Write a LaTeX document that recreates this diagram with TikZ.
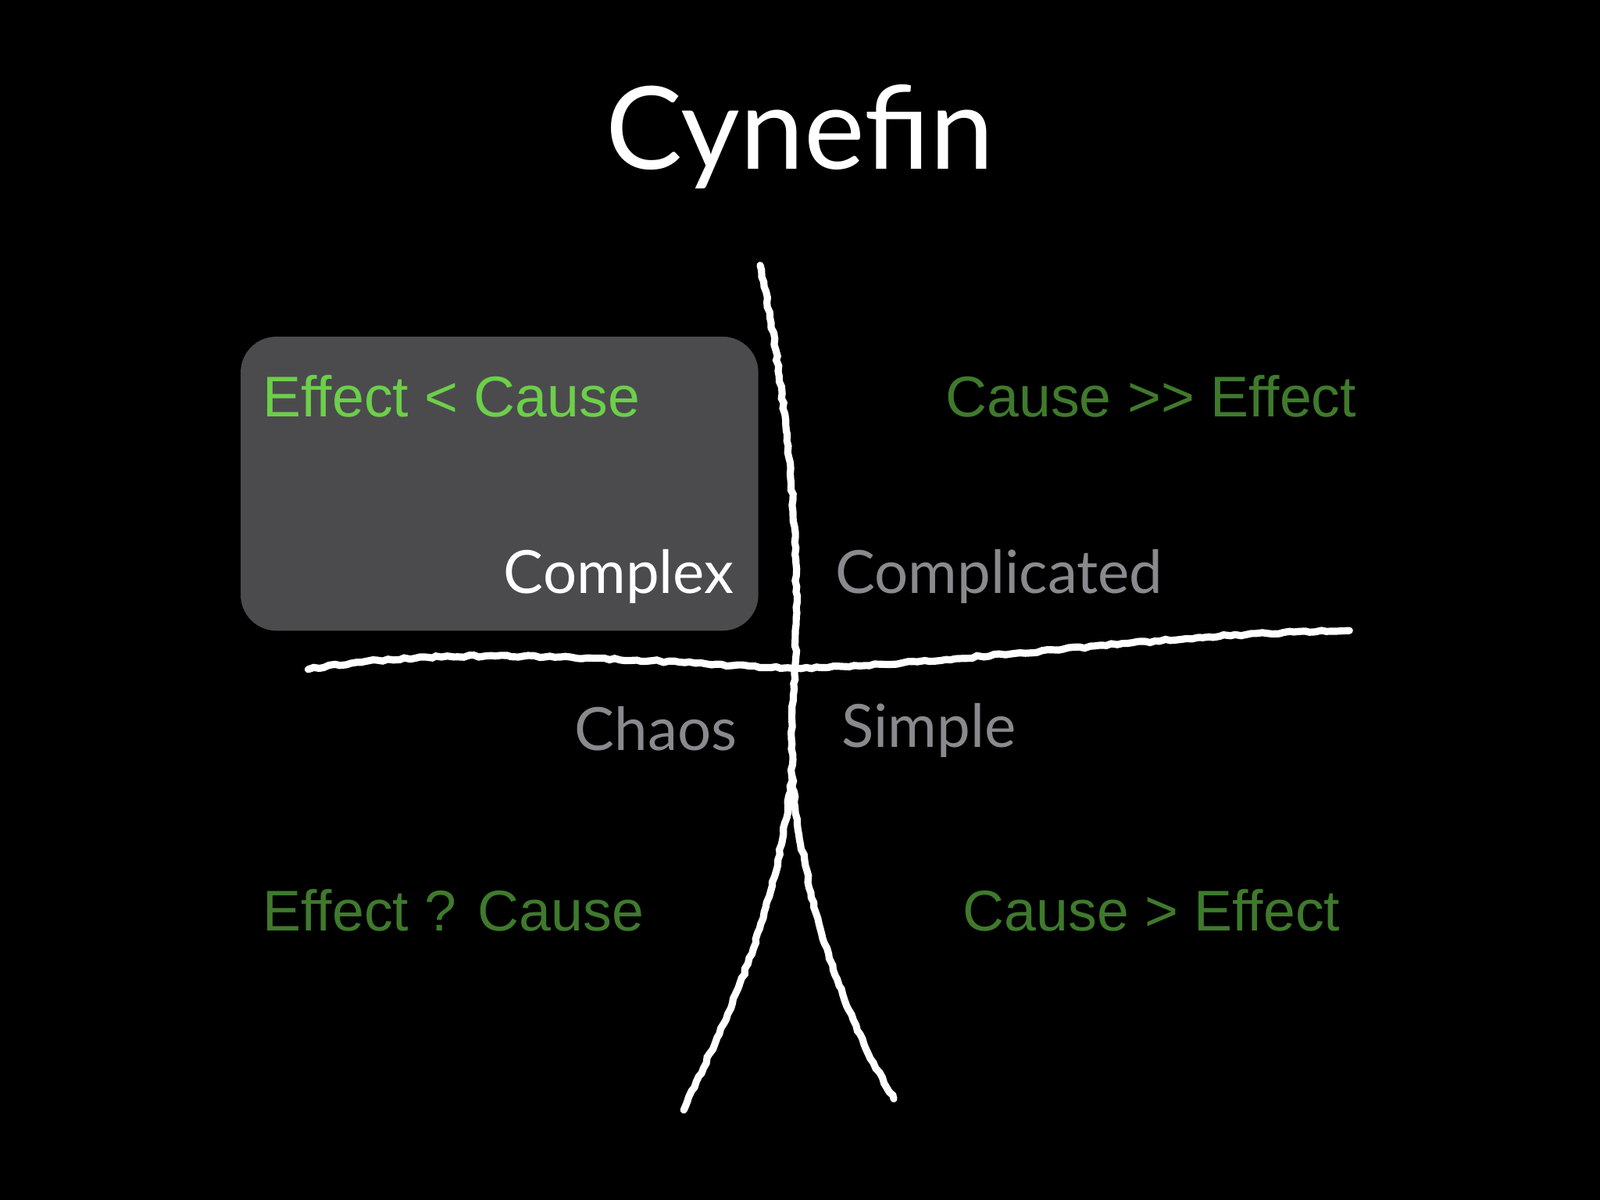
\documentclass[tikz,border=0pt]{standalone}
\usepackage{fontspec}
\setmainfont{Lato}
\newfontfamily\helv{Liberation Sans}
\usetikzlibrary{decorations.pathmorphing}
\definecolor{boxgray}{HTML}{4B4B4D}
\definecolor{brightgreen}{HTML}{6CCF4A}
\definecolor{dimgreen}{HTML}{3F7A2C}
\definecolor{labgray}{HTML}{8A8A8E}
\tikzset{
  chalk/.style={draw=white, line width=2pt, line cap=round,
    decorate, decoration={random steps, segment length=1.5pt, amplitude=0.3pt}},
  rel/.style={font=\helv\fontsize{16}{16}\selectfont, inner sep=0pt},
  dom/.style={font=\fontsize{16.6}{16.6}\selectfont, inner sep=0pt}
}
\begin{document}
\begin{tikzpicture}[x=0.01cm,y=-0.01cm]
\fill[black] (0,0) rectangle (1568,1176);
\useasboundingbox (0,0) rectangle (1568,1176);
\node[font=\fontsize{32}{32}\selectfont, text=white, inner sep=0pt] (title) at (784,134) {Cynefin};
\node[fill=boxgray, rounded corners=0.35cm, minimum width=5.07cm, minimum height=2.88cm, inner sep=0pt] (box) at (489.5,474) {};
\node[rel, text=brightgreen, anchor=west] (ec) at (257,388) {Effect < Cause};
\node[rel, text=dimgreen, anchor=west] (cee) at (926,388) {Cause >> Effect};
\node[rel, text=dimgreen, anchor=west] (eqc) at (257,892) {Effect ? Cause};
\node[rel, text=dimgreen, anchor=west] (ce) at (943,892) {Cause > Effect};
\node[dom, text=white, anchor=east] (complex) at (720,565) {Complex};
\node[dom, text=labgray, anchor=west] (complicated) at (818,565) {Complicated};
\node[dom, text=labgray, anchor=east] (chaos) at (723,714) {Chaos};
\node[dom, text=labgray, anchor=west] (simple) at (824,716) {Simple};
\coordinate (vt) at (745,260);
\coordinate (c) at (779,655);
\coordinate (split) at (776,760);
\coordinate (bl) at (670,1088);
\coordinate (br) at (876,1077);
\coordinate (hl) at (302,656);
\coordinate (hr) at (1322,618);
\draw[chalk] (vt) .. controls (770,380) and (785,520) .. (c) .. controls (776,700) .. (split);
\draw[chalk] (split) .. controls (760,900) and (720,980) .. (bl);
\draw[chalk] (split) .. controls (790,900) and (830,1000) .. (br);
\draw[chalk] (hl) .. controls (450,630) and (650,650) .. (c) .. controls (950,650) and (1150,620) .. (hr);
\end{tikzpicture}
\end{document}
